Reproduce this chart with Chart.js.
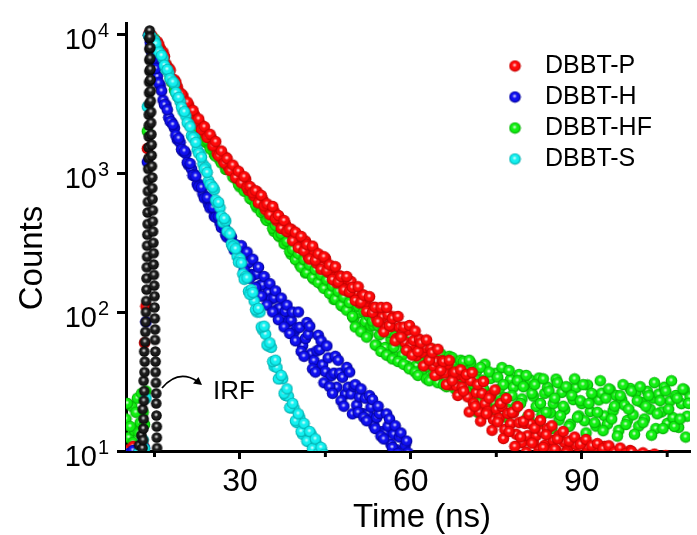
<!DOCTYPE html>
<html>
<head>
<meta charset="utf-8">
<script src="https://cdn.jsdelivr.net/npm/chart.js@4.4.1/dist/chart.umd.min.js"></script>
<style>
  html, body { margin: 0; padding: 0; background: #fff; overflow: hidden; }
  canvas { display: block; }
</style>
</head>
<body>
<canvas id="decay" width="697" height="535"></canvas>
<script>
const FONT = "'Liberation Sans', Arial, Helvetica, sans-serif";

// time channels (ns); the B set sits between the A channels
const timeNs = [
  10,10.5,11,11.5,12,12.5,13,13.5,14,14.5,15,15.5,16,16.5,17,17.5,18,18.5,19,19.5,
  20,20.5,21,21.5,22,22.5,23,23.5,24,24.5,25,25.5,26,26.5,27,27.5,28,28.5,29,29.5,
  30,30.5,31,31.5,32,32.5,33,33.5,34,34.5,35,35.5,36,36.5,37,37.5,38,38.5,39,39.5,
  40,40.5,41,41.5,42,42.5,43,43.5,44,44.5,45,45.5,46,46.5,47,47.5,48,48.5,49,49.5,
  50,50.5,51,51.5,52,52.5,53,53.5,54,54.5,55,55.5,56,56.5,57,57.5,58,58.5,59,59.5,
  60,60.5,61,61.5,62,62.5,63,63.5,64,64.5,65,65.5,66,66.5,67,67.5,68,68.5,69,69.5,
  70,70.5,71,71.5,72,72.5,73,73.5,74,74.5,75,75.5,76,76.5,77,77.5,78,78.5,79,79.5,
  80,80.5,81,81.5,82,82.5,83,83.5,84,84.5,85,85.5,86,86.5,87,87.5,88,88.5,89,89.5,
  90,90.5,91,91.5,92,92.5,93,93.5,94,94.5,95,95.5,96,96.5,97,97.5,98,98.5,99,99.5,
  100,100.5,101,101.5,102,102.5,103,103.5,104,104.5,105,105.5,106,106.5,107,107.5,108,108.5,109
];
const timeNsB = [
  10.25,10.75,11.25,11.75,12.25,12.75,13.25,13.75,14.25,14.75,15.25,15.75,16.25,16.75,17.25,17.75,18.25,18.75,19.25,19.75,
  20.25,20.75,21.25,21.75,22.25,22.75,23.25,23.75,24.25,24.75,25.25,25.75,26.25,26.75,27.25,27.75,28.25,28.75,29.25,29.75,
  30.25,30.75,31.25,31.75,32.25,32.75,33.25,33.75,34.25,34.75,35.25,35.75,36.25,36.75,37.25,37.75,38.25,38.75,39.25,39.75,
  40.25,40.75,41.25,41.75,42.25,42.75,43.25,43.75,44.25,44.75,45.25,45.75,46.25,46.75,47.25,47.75,48.25,48.75,49.25,49.75,
  50.25,50.75,51.25,51.75,52.25,52.75,53.25,53.75,54.25,54.75,55.25,55.75,56.25,56.75,57.25,57.75,58.25,58.75,59.25,59.75,
  60.25,60.75,61.25,61.75,62.25,62.75,63.25,63.75,64.25,64.75,65.25,65.75,66.25,66.75,67.25,67.75,68.25,68.75,69.25,69.75,
  70.25,70.75,71.25,71.75,72.25,72.75,73.25,73.75,74.25,74.75,75.25,75.75,76.25,76.75,77.25,77.75,78.25,78.75,79.25,79.75,
  80.25,80.75,81.25,81.75,82.25,82.75,83.25,83.75,84.25,84.75,85.25,85.75,86.25,86.75,87.25,87.75,88.25,88.75,89.25,89.75,
  90.25,90.75,91.25,91.75,92.25,92.75,93.25,93.75,94.25,94.75,95.25,95.75,96.25,96.75,97.25,97.75,98.25,98.75,99.25,99.75,
  100.25,100.75,101.25,101.75,102.25,102.75,103.25,103.75,104.25,104.75,105.25,105.75,106.25,106.75,107.25,107.75,108.25,108.75
];

// DBBT-P
const countsP = [
  9.6,10.2,9.4,10.4,9.8,10.6,11,110,10000,9770,8910,8810,7850,7410,6100,5690,4790,4680,4170,3720,
  3590,3090,3090,2720,2630,2290,2260,2160,1910,1840,1780,1680,1380,1410,1240,1300,1100,1080,1080,912,
  966,861,902,750,767,684,733,631,646,543,569,519,531,452,468,398,427,376,394,335,
  331,347,282,324,248,272,275,224,245,214,243,193,200,209,162,182,164,174,140,166,
  135,138,116,133,116,126,101,108,89,105,92,77.6,95.5,78.5,92.3,64.6,77.6,70,60.3,74.1,
  57.5,62.4,48.4,63.8,51.3,55.6,42.7,55,40.7,44.2,35.9,44.7,36.3,42.2,29.9,36.3,29.5,35.5,28.8,33.9,
  24.5,32,22.1,26.3,19.1,26,21.9,19.3,25.1,16.8,20,17.2,20.9,14.3,18.6,15.7,18.8,13.2,16,11.5,
  15.8,12.9,15.7,11.5,12.9,10.2,13.8,11,14.5,10,11.9,10.1,12.9,9.0,11.5,10.1,11.7,8.7,11.1,8.9,
  11.5,9.3,10.6,9.0,9.8,10.4,8.8,9.6,10.8,9.1,10.2,8.7,9.5,9.9,8.6,9.2,8.9,10.1,8.5,9.0,
  8.7,9.4,8.4,8.9,9.1,8.3,8.8,9.0,8.5,8.6,8.9,8.2,8.7,8.8,8.3,8.6,8.4,8.5,8.2
];
const countsPB = [
  10.1,9.5,10.8,9.7,10.3,9.9,60,1500,9800,9100,8500,8400,7200,6900,5700,5500,4600,4500,3850,3700,
  3150,3240,2700,2820,2360,2450,2050,2150,1800,1900,1570,1680,1330,1440,1180,1270,1040,1140,930,1030,
  850,940,790,800,720,745,610,690,580,600,500,575,470,495,400,455,380,395,325,375,
  290,350,275,305,240,298,236,262,203,250,198,218,171,212,165,180,144,180,140,150,
  121,152,118,132,101,129,99,108,85,108,72,108,80,90,62,93,66,78,53,80,
  49,73,52,60,41,63,45,51,35,54,38,44,30,45,32,37,25.1,38.4,27,35.5,
  19.1,36.7,21,30,16.4,31.6,18.5,24,14.1,27.5,16.2,22,12.3,23.9,13.8,19,10.8,20.9,12.6,16.4,
  9.8,18.3,11.4,14.6,9.4,16.6,10.6,13.1,9.2,15.2,10.3,12.2,9.0,13.8,9.7,11.8,8.9,12.6,9.4,11.2,
  8.8,12.1,9.3,10.9,8.7,11.3,9.1,10.4,8.6,10.9,9.0,9.8,8.5,10.5,8.9,9.6,8.4,9.9,8.8,9.3,
  8.5,9.7,8.3,9.2,8.6,9.5,8.2,8.9,8.4,9.3,8.1,8.8,8.5,9.0,8.2,8.6,8.3,8.7
];

// DBBT-H
const countsH = [
  null,9.6,null,9.8,null,10.3,9.7,85,9770,7410,6240,4950,4270,3350,3090,2510,2320,2110,1740,1660,
  1430,1380,1140,1070,977,832,822,708,668,596,589,490,501,437,442,359,355,347,279,285,
  251,263,221,226,186,186,188,155,157,130,138,124,126,104,107,91.2,101,85.1,87.1,71.6,
  76.7,77.6,57.5,64.6,69.2,50.1,44.7,52.5,53.7,41.7,37.2,46.8,34.7,36.3,28.8,36.3,33.9,25.7,28.8,25.7,
  29.2,21.4,24.5,18.6,24,18.6,20.7,15.3,17.4,18.6,13.8,13.5,15.1,11.2,13.2,10.2,12.6,10,11,9.7
];
const countsHB = [
  null,null,10.1,null,9.7,null,10.5,1200,8700,6600,5650,4450,3900,3100,2850,2350,2230,1870,1780,1480,
  1440,1190,1170,960,950,795,790,660,665,560,565,480,485,405,410,345,350,298,305,258,
  300,200,270,175,240,150,210,130,180,112,160,100,142,88,126,78,112,70,100,62,
  100,52,48,84,79,39,37,68,62,31,57,29,26,48,45,23,21,40,37,18.5,
  30,19,28,17.5,16.5,25,23.5,14.5,21,12.8,12.2,18.5,17,10.6,15.2,9.6,13.5,9.2,11.8,8.9
];

// DBBT-HF
const countsHF = [
  17,12.5,21,14,24,16,19,27,9770,9550,9230,8040,7760,6380,5960,5370,4520,3980,3890,3390,
  3020,2920,2510,2510,2210,2140,1880,1910,1660,1620,1510,1360,1450,1240,1260,1060,1100,1070,923,902,
  794,841,741,767,646,653,562,569,562,473,457,462,380,394,347,363,309,309,260,269,
  245,219,245,191,214,211,172,204,170,155,176,145,148,123,143,126,110,129,105,112,
  90,99,99,79.4,85.1,69.2,79.4,80.4,57.5,68.4,75.9,55.6,49,64.1,55.6,47,61.7,49,55,40.7,
  51.3,56.5,41.2,46.5,38,50.4,40.3,50.4,36.3,42.9,36.7,47.5,32.7,41.4,36.7,42.9,30.2,39.1,33.5,40.5,
  26.3,43.1,30.1,37.3,22.2,32.4,42.1,25,33.3,22.2,36.3,27.9,39.8,24.3,20,32.7,28.8,21.1,35.5,23.7,
  29.5,17.6,32.4,24.8,20.9,33.5,18.2,26,28.8,18.8,21.9,32.9,16.7,26.4,19.9,28.5,15.6,23.4,28.6,17.9,
  21.9,16.5,29.9,19.2,25.2,15.1,23.3,26.1,17.9,15.6,27.5,19.5,25.1,14.1,23.4,21.4,16.6,28.2,18.2,26.3,
  15.1,22.4,17,26.9,20,24,14.5,25.7,19.1,28.8,15.8,22.9,17.4,25.1,14.8,21.9,27.5,17.8,24.5
];
const countsHFB = [
  22,15,11.5,19,13.5,26,15.5,2000,9600,9000,8700,7800,7300,6100,5700,4800,4500,3800,3650,3150,
  2850,2850,2420,2430,2080,2100,1950,1700,1720,1490,1540,1320,1380,1180,1220,1060,1090,940,975,830,
  870,740,780,660,690,590,600,520,530,455,470,400,420,355,365,310,322,273,283,238,
  262,210,238,192,218,177,202,163,185,148,170,136,154,124,141,112,128,103,117,93,
  78,110,72,101,66,93,86,58,80,52,76,49,71,46,67,44,64,42,61,39,
  58,37,35,57,55,33,32,54,52,31,50,30,29,48,47,28,27,45,44,26.5,
  45,24,33,19,40,28,21,37,26,18.5,34,23,30,17.5,38,25,20,32,22,29,
  35,17,26,30,15.5,22,33,19,27,14.5,24,31,18,21,29,15,25,33,17.5,23,
  30,13.5,22,26,16,19,32,14,24,28,17,21,12.8,25,30,15.5,20,27,13.2,23,
  29,16,21,25,13,31,18.5,23,14.5,27,20,32,15,24,17,28,12.6,22
];

// DBBT-S
const countsS = [
  null,null,null,null,null,9.6,12,24,9770,9440,9020,7760,7240,6680,5560,5250,4620,4370,3550,3270,
  2790,2570,2260,1860,1800,1480,1380,1160,1100,881,813,759,603,562,442,452,376,309,302,251,
  243,188,180,141,145,120,100,100,74.1,69.2,56.9,55.6,40.7,39.8,33.5,33.1,25.1,24.8,20.4,20.4,
  16,17.4,13.2,14.1,11.7,13.2,10.2,11.2,10,9.8
];
const countsSB = [
  null,null,null,null,9.8,null,10.4,3000,9800,8900,8500,7400,7000,5950,5550,4780,4520,3800,3500,2980,
  2760,2300,2150,1790,1660,1390,1300,1070,1010,830,790,640,615,490,470,380,365,295,285,228,
  225,172,176,134,138,104,106,78,79,58,60,44,45,33,35,26,28,20.5,22,16.5,
  18.5,13.8,15.8,11.8,13.8,10.4,12.2,9.6,10.6,9.4
];

// instrument response, sampled on its own finer channels
const irfTime = [
  12.3,12.7,12.9,13.0,13.05,13.1,12.95,13.15,13.2,13.1,13.25,13.3,13.2,13.35,13.4,13.45,13.5,13.55,13.6,13.6,
  13.65,13.7,13.7,13.75,13.8,13.8,13.85,13.85,13.9,13.9,13.95,13.95,14.0,14.0,14.0,14.05,14.05,14.05,14.1,14.1,
  14.1,14.1,14.15,14.2,14.25,14.25,14.3,14.3,14.35,14.35,14.4,14.4,14.45,14.5,14.5,14.55,14.6,14.6,14.65,14.7,
  14.7,14.75,14.8,14.85,14.85,14.9,14.95,15.0,15.0,15.05,15.1,15.1,15.15,15.2,15.2,15.25,15.3,15.3,15.35,15.4,
  15.4,15.45
];
const irfCounts = [
  11,13,10.5,12,14.5,17,20,23,27,32,37,44,52,61,72,85,100,120,145,175,
  210,250,300,360,430,520,620,740,890,1070,1280,1530,1830,2200,2630,3150,3780,4520,5420,6500,
  7800,9300,10600,9500,8000,6700,5600,4700,3900,3300,2750,2300,1900,1600,1340,1120,930,780,650,540,
  450,380,315,265,220,185,155,130,108,90,75,63,52,44,37,31,26,22,18,15,
  12.5,10.5
];

const seriesLabels = ["DBBT-P", "DBBT-H", "DBBT-HF", "DBBT-S"];
const seriesCountsA = [countsP, countsH, countsHF, countsS];
const seriesCountsB = [countsPB, countsHB, countsHFB, countsSB];
const seriesColors = ["#ff0a0a", "#1010f0", "#12f012", "#12f0f0"];
const seriesEdges = ["#b80000", "#000088", "#00a000", "#00a0a0"];
const drawOrder = [3, 2, 4, 1]; // higher is drawn first

const yTicks = [10, 100, 1000, 10000];
const xMajorTicks = [30, 60, 90];
const xMinorTicks = [15, 45, 75, 105];

// small glossy ball used as the point style
function sphere(color, edge, r) {
  const size = 13, c0 = size / 2;
  const c = document.createElement("canvas");
  c.width = size; c.height = size;
  const g = c.getContext("2d");
  const body = g.createRadialGradient(c0 - 0.6, c0 - 1, 0.5, c0, c0, r);
  body.addColorStop(0, color);
  body.addColorStop(0.65, color);
  body.addColorStop(1, edge);
  g.fillStyle = body;
  g.beginPath();
  g.arc(c0, c0, r, 0, Math.PI * 2);
  g.fill();
  const spot = g.createRadialGradient(c0 - 0.4, c0 - 0.9, 0, c0 - 0.4, c0 - 0.9, 2.3);
  spot.addColorStop(0, "rgba(255,255,255,0.95)");
  spot.addColorStop(1, "rgba(255,255,255,0)");
  g.fillStyle = spot;
  g.beginPath();
  g.arc(c0, c0, r, 0, Math.PI * 2);
  g.fill();
  return c;
}

const markers = seriesColors.map((c, i) => sphere(c, seriesEdges[i], 5.8));
const irfMarker = sphere("#1c1c1c", "#000000", 5.3);

function toPoints(counts, times) {
  const pts = [];
  counts.forEach((c, i) => { if (c != null) pts.push({ x: times[i], y: c }); });
  return pts;
}

const datasets = seriesLabels.map((label, i) => ({
  label,
  data: toPoints(seriesCountsA[i], timeNs).concat(toPoints(seriesCountsB[i], timeNsB)),
  pointStyle: markers[i],
  pointRadius: 6,
  showLine: false,
  order: drawOrder[i],
}));
datasets.push({
  label: "IRF",
  data: irfTime.map((t, i) => ({ x: t, y: irfCounts[i] })),
  pointStyle: irfMarker,
  pointRadius: 5,
  showLine: false,
  order: 0,
});

const extras = {
  id: "extras",
  afterDraw(chart) {
    const { ctx, chartArea } = chart;
    const xs = chart.scales.x, ys = chart.scales.y;
    ctx.save();
    ctx.fillStyle = "#000";
    ctx.strokeStyle = "#000";

    // y tick labels as 10^n
    yTicks.forEach((v) => {
      const py = ys.getPixelForValue(v);
      ctx.font = "29px " + FONT;
      ctx.textAlign = "right";
      ctx.textBaseline = "alphabetic";
      ctx.fillText("10", 97, py + 14.5);
      ctx.font = "20px " + FONT;
      ctx.textAlign = "left";
      ctx.fillText(String(Math.round(Math.log10(v))), 98, py + 3);
    });

    // minor x ticks
    ctx.lineWidth = 3;
    xMinorTicks.forEach((v) => {
      const px = xs.getPixelForValue(v);
      ctx.beginPath();
      ctx.moveTo(px, chartArea.bottom);
      ctx.lineTo(px, chartArea.bottom + 6);
      ctx.stroke();
    });

    // axis titles
    ctx.font = "33px " + FONT;
    ctx.textAlign = "center";
    ctx.textBaseline = "alphabetic";
    ctx.fillText("Time (ns)", 422, 527);
    ctx.save();
    ctx.translate(42, 258);
    ctx.rotate(-Math.PI / 2);
    ctx.fillText("Counts", 0, 0);
    ctx.restore();

    // legend
    ctx.font = "25px " + FONT;
    ctx.textAlign = "left";
    seriesLabels.forEach((label, i) => {
      const cy = 66 + i * 31;
      ctx.drawImage(markers[i], 515 - 6.5, cy - 6.5);
      ctx.fillText(label, 545, cy + 7);
    });

    // IRF note with curved arrow
    ctx.font = "26px " + FONT;
    ctx.fillText("IRF", 213, 399);
    ctx.lineWidth = 1.8;
    ctx.beginPath();
    ctx.moveTo(162, 388);
    ctx.quadraticCurveTo(178, 369, 197, 381);
    ctx.stroke();
    ctx.beginPath();
    ctx.moveTo(202, 385);
    ctx.lineTo(193, 383.5);
    ctx.lineTo(198.5, 377);
    ctx.closePath();
    ctx.fill();
    ctx.restore();
  },
};

new Chart(document.getElementById("decay"), {
  type: "scatter",
  data: { datasets },
  options: {
    responsive: false,
    devicePixelRatio: 1,
    animation: false,
    layout: { padding: { top: 23, left: 0, right: 0, bottom: 0 } },
    plugins: { legend: { display: false }, tooltip: { enabled: false } },
    scales: {
      x: {
        type: "linear",
        min: 10,
        max: 109,
        afterBuildTicks: (s) => {
          s.ticks = [...xMinorTicks, ...xMajorTicks].sort((a, b) => a - b).map((v) => ({ value: v }));
        },
        afterFit: (s) => { s.height = 84; },
        border: { display: true, color: "#000", width: 3 },
        grid: {
          drawOnChartArea: false,
          drawTicks: true,
          tickLength: 8,
          tickWidth: 3,
          tickColor: (c) => (xMajorTicks.includes(c.tick && c.tick.value) ? "#000" : "rgba(0,0,0,0)"),
        },
        ticks: {
          autoSkip: false,
          maxRotation: 0,
          padding: 4,
          color: "#000",
          font: { family: FONT, size: 32 },
          callback: (v) => (xMajorTicks.includes(v) ? String(v) : ""),
        },
      },
      y: {
        type: "logarithmic",
        min: 10,
        max: 12000,
        afterBuildTicks: (s) => { s.ticks = yTicks.map((v) => ({ value: v })); },
        afterFit: (s) => { s.width = 126; },
        border: { display: true, color: "#000", width: 3 },
        grid: {
          drawOnChartArea: false,
          drawTicks: true,
          tickLength: 9,
          tickWidth: 3,
          tickColor: "#000",
        },
        ticks: { callback: () => "", font: { size: 1 } },
      },
    },
  },
  plugins: [extras],
});
</script>
</body>
</html>
